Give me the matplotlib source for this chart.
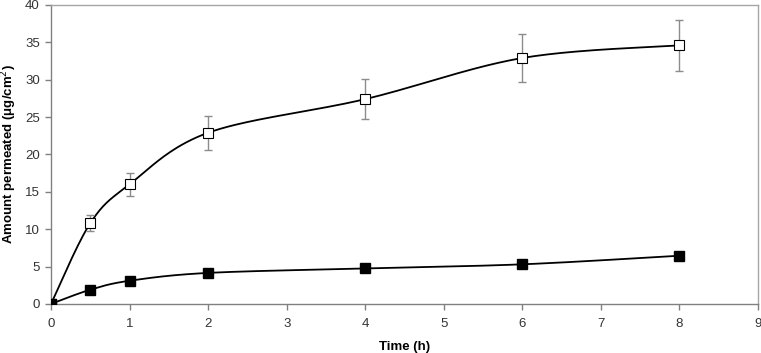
import numpy as np
import matplotlib
matplotlib.use("Agg")
import matplotlib.pyplot as plt

time_h = [0, 0.5, 1, 2, 4, 6, 8]
open_vals = [0, 10.8, 16.0, 22.9, 27.4, 32.9, 34.6]
open_err = [0, 1.1, 1.55, 2.25, 2.7, 3.25, 3.4]
filled_vals = [0, 1.9, 3.1, 4.15, 4.75, 5.3, 6.45]
filled_err = [0, 0.2, 0.2, 0.2, 0.2, 0.2, 0.5]
x_ticks = list(range(0, 10))
y_ticks = list(range(0, 45, 5))

plt.rcParams['font.family'] = ['Liberation Sans', 'DejaVu Sans']


def smooth(x, y, n=40):
    # Excel-like smoothed line: cubic Bezier segments with Catmull-Rom control points
    x = np.asarray(x, float)
    y = np.asarray(y, float)
    px, py = [], []
    for i in range(len(x) - 1):
        p0 = np.array([x[max(i - 1, 0)], y[max(i - 1, 0)]])
        p1 = np.array([x[i], y[i]])
        p2 = np.array([x[i + 1], y[i + 1]])
        p3 = np.array([x[min(i + 2, len(x) - 1)], y[min(i + 2, len(x) - 1)]])
        c1 = p1 + (p2 - p0) / 6.0
        c2 = p2 - (p3 - p1) / 6.0
        t = np.linspace(0, 1, n)[:, None]
        pts = ((1 - t) ** 3) * p1 + 3 * ((1 - t) ** 2) * t * c1 + 3 * (1 - t) * t ** 2 * c2 + t ** 3 * p2
        px.extend(pts[:, 0])
        py.extend(pts[:, 1])
    return np.array(px), np.array(py)


fig = plt.figure(figsize=(7.61, 3.53), dpi=100)
ax = fig.add_axes([0.067, 0.139, 0.929, 0.847])

gray = '#8c8c8c'

sx, sy = smooth(time_h, open_vals)
ax.plot(sx, sy, color='black', lw=1.3, zorder=2)
ax.errorbar(time_h, open_vals, yerr=open_err, fmt='none', ecolor=gray, elinewidth=1.0,
            capsize=3, capthick=1.0, zorder=3)
ax.plot(time_h, open_vals, linestyle='none', marker='s', markersize=6.5,
        markerfacecolor='white', markeredgecolor='black', markeredgewidth=0.8, zorder=4)

fx, fy = smooth(time_h, filled_vals)
ax.plot(fx, fy, color='black', lw=1.3, zorder=2)
ax.errorbar(time_h[-1:], filled_vals[-1:], yerr=filled_err[-1:], fmt='none', ecolor='black',
            elinewidth=1.0, capsize=2, capthick=1.0, zorder=3)
ax.plot(time_h, filled_vals, linestyle='none', marker='s', markersize=6.5,
        markerfacecolor='black', markeredgecolor='black', zorder=4)

ax.set_xlim(0, 9)
ax.set_ylim(0, 40)
ax.set_xticks(x_ticks)
ax.set_yticks(y_ticks)
ax.set_xticklabels([str(v) for v in x_ticks])
ax.set_yticklabels([str(v) for v in y_ticks])

for s in ax.spines.values():
    s.set_color('#a6a6a6')
    s.set_linewidth(1.0)
ax.spines['left'].set_color('#808080')
ax.spines['bottom'].set_color('#808080')

ax.tick_params(axis='both', direction='out', length=4, width=1.0, color='#808080',
               labelsize=9.5, labelcolor='#333333')
ax.tick_params(axis='x', pad=6)
ax.tick_params(axis='y', pad=4)

ax.set_xlabel('Time (h)', fontsize=9.5, fontweight='bold', labelpad=8)
ax.set_ylabel('Amount permeated (μg/cm$^{2}$)', fontsize=9.5, fontweight='bold')
ax.yaxis.set_label_coords(-0.045, 0.5)

fig.savefig('out.png', dpi=100)
